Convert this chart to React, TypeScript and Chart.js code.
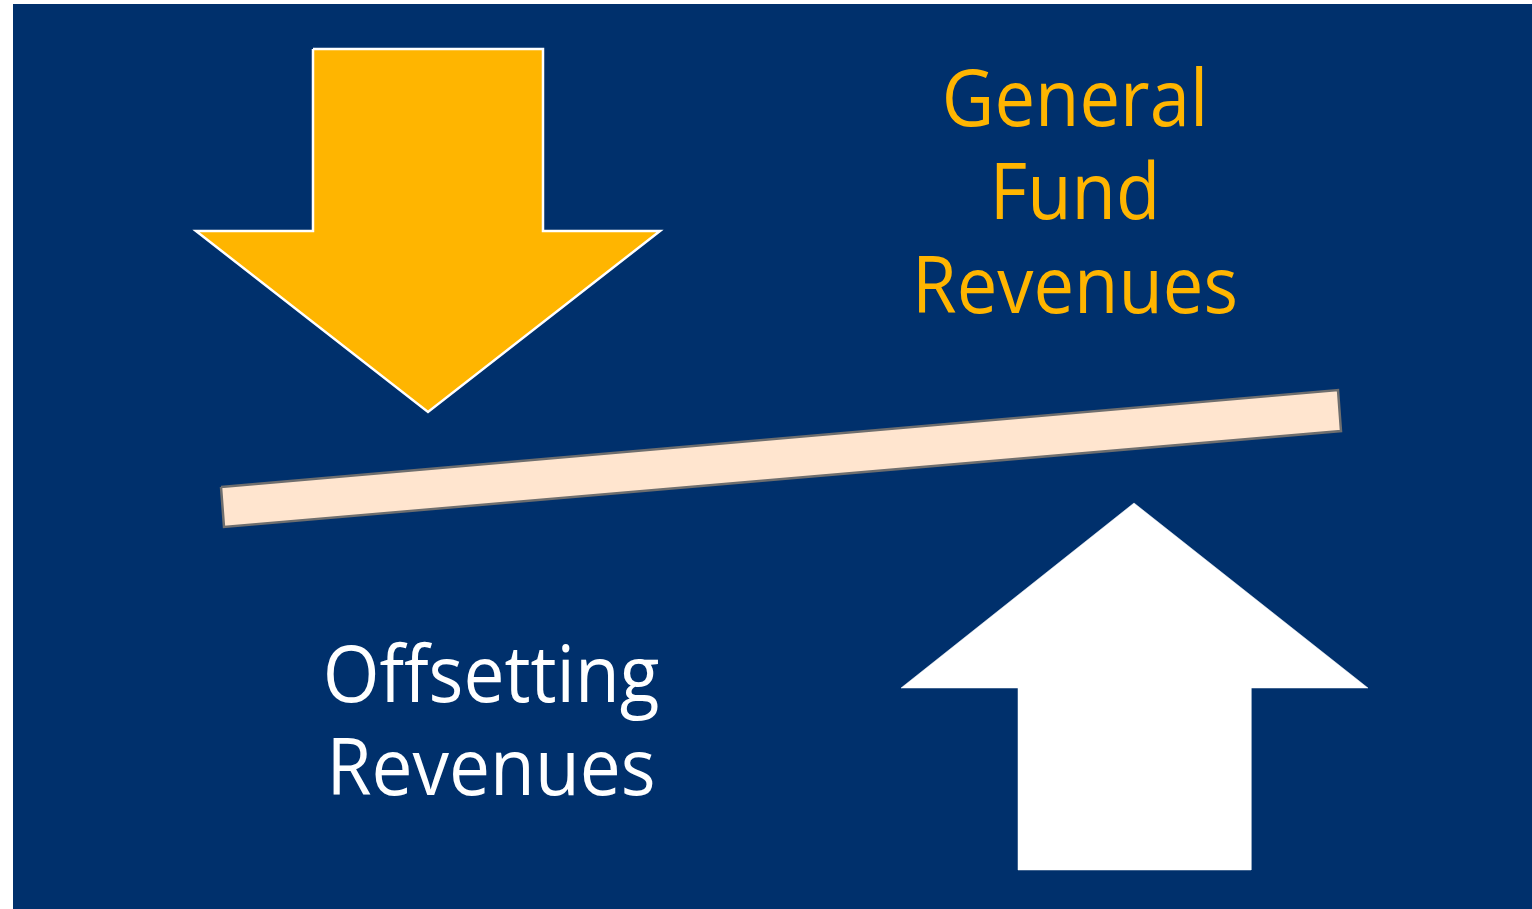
import React, { useEffect, useRef } from "react";
import { Chart, registerables } from "chart.js";

Chart.register(...registerables);

const W = 1532;
const H = 909;

// Shapes (pixel-space coordinates used as data on linear x / reversed y scales)
const backgroundX = [13, 1532, 1532, 13, 13];
const backgroundY = [4, 4, 909, 909, 4];

const downArrowX = [313, 543, 543, 660, 428, 196, 313, 313];
const downArrowY = [49, 49, 231, 231, 412, 231, 231, 49];

const upArrowX = [1134, 1368, 1251, 1251, 1018, 1018, 901, 1134];
const upArrowY = [503, 688, 688, 870, 870, 688, 688, 503];

const plankX = [221, 1338, 1341, 224, 221];
const plankY = [487, 390, 431, 527, 487];

const topLabelLines = ["General", "Fund", "Revenues"];
const topLabelBaselines = [126, 219, 313];
const topLabelCenter = 1075;
const topLabelTargetWidth = 326;

const bottomLabelLines = ["Offsetting", "Revenues"];
const bottomLabelBaselines = [702, 795];
const bottomLabelCenter = 491;
const bottomLabelTargetWidth = 329;

const NAVY = "#00306C";
const GOLD = "#FFB500";
const PLANK = "#FFE5CF";

function pts(xs: number[], ys: number[]) {
  return xs.map((x, i) => ({ x, y: ys[i] }));
}

const textPlugin = {
  id: "diagramText",
  afterDatasetsDraw(chart: any) {
    const ctx = chart.ctx as CanvasRenderingContext2D;
    const xs = chart.scales.x;
    const ys = chart.scales.y;
    const fontSize = 79;
    const drawBlock = (
      lines: string[],
      baselines: number[],
      cx: number,
      targetW: number,
      color: string
    ) => {
      ctx.save();
      ctx.font = `${fontSize}px "Open Sans"`;
      const measured = ctx.measureText("Revenues").width;
      const sx = targetW / measured;
      ctx.fillStyle = color;
      ctx.textAlign = "center";
      ctx.textBaseline = "alphabetic";
      lines.forEach((line, i) => {
        const px = xs.getPixelForValue(cx);
        const py = ys.getPixelForValue(baselines[i]);
        ctx.save();
        ctx.translate(px, py);
        ctx.scale(sx, 1);
        ctx.fillText(line, 0, 0);
        ctx.restore();
      });
      ctx.restore();
    };
    drawBlock(topLabelLines, topLabelBaselines, topLabelCenter, topLabelTargetWidth, GOLD);
    drawBlock(bottomLabelLines, bottomLabelBaselines, bottomLabelCenter, bottomLabelTargetWidth, "#FFFFFF");
  },
};

export default function App() {
  const ref = useRef<HTMLCanvasElement | null>(null);

  useEffect(() => {
    if (!ref.current) return;
    const common = {
      showLine: true,
      pointRadius: 0,
      pointHoverRadius: 0,
      tension: 0,
      fill: "shape" as const,
      clip: false as any,
    };
    const chart = new Chart(ref.current, {
      type: "scatter",
      data: {
        datasets: [
          {
            ...common,
            label: "Down arrow",
            data: pts(downArrowX, downArrowY),
            backgroundColor: GOLD,
            borderColor: "#FFFFFF",
            borderWidth: 2.5,
            order: 1,
          },
          {
            ...common,
            label: "Up arrow",
            data: pts(upArrowX, upArrowY),
            backgroundColor: "#FFFFFF",
            borderColor: "#FFFFFF",
            borderWidth: 0.5,
            order: 2,
          },
          {
            ...common,
            label: "Plank",
            data: pts(plankX, plankY),
            backgroundColor: PLANK,
            borderColor: "#6E6E6E",
            borderWidth: 2.5,
            order: 3,
          },
          {
            ...common,
            label: "Background",
            data: pts(backgroundX, backgroundY),
            backgroundColor: NAVY,
            borderColor: NAVY,
            borderWidth: 0,
            order: 10,
          },
        ],
      },
      options: {
        animation: false,
        responsive: false,
        maintainAspectRatio: false,
        events: [],
        layout: { padding: 0 },
        plugins: {
          legend: { display: false },
          tooltip: { enabled: false },
          title: { display: false },
        },
        scales: {
          x: { type: "linear", min: 0, max: W, display: false },
          y: { type: "linear", min: 0, max: H, reverse: true, display: false },
        },
      },
      plugins: [textPlugin],
    });
    return () => chart.destroy();
  }, []);

  return (
    <div style={{ position: "fixed", left: 0, top: 0, width: W, height: H, background: "#FFFFFF" }}>
      <canvas ref={ref} width={W} height={H} style={{ width: W, height: H, display: "block" }} />
    </div>
  );
}
